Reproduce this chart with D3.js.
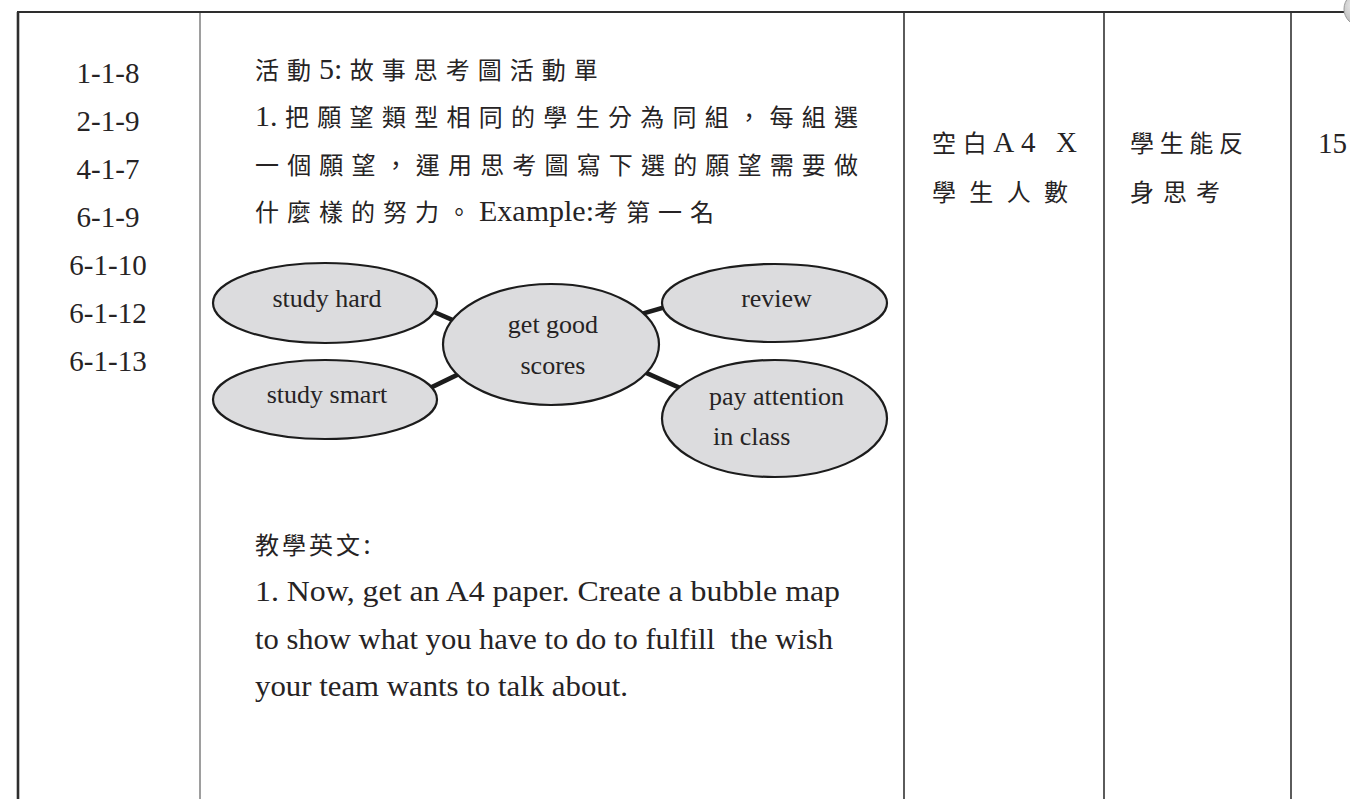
<!DOCTYPE html>
<html>
<head>
<meta charset="utf-8">
<script src="https://cdn.jsdelivr.net/npm/d3@7"></script>
<style>
  html, body { margin: 0; padding: 0; background: #fff; }
  svg { display: block; }
</style>
</head>
<body>
<div id="chart"></div>
<script>
// ---------------- data ----------------
const codes = ["1-1-8", "2-1-9", "4-1-7", "6-1-9", "6-1-10", "6-1-12", "6-1-13"];
const activityLines = [
  "活動5: 故事思考圖活動單",
  "1. 把願望類型相同的學生分為同組，每組選",
  "一個願望，運用思考圖寫下選的願望需要做",
  "什麼樣的努力。Example:考第一名"
];
const teachingTitle = ["教學英文:"];
const englishLines = [
  "1. Now, get an A4 paper. Create a bubble map",
  "to show what you have to do to fulfill  the wish",
  "your team wants to talk about."
];
const materials = ["空白A4 X", "學生人數"];
const objectives = ["學生能反", "身思考"];
const minutes = ["15"];
const bubbleNodes = [
  { id: "hard",   lines: ["study hard"] },
  { id: "smart",  lines: ["study smart"] },
  { id: "center", lines: ["get good", "scores"] },
  { id: "review", lines: ["review"] },
  { id: "attn",   lines: ["pay attention", "in class"] }
];
const bubbleLinks = [
  { source: "hard",   target: "center" },
  { source: "smart",  target: "center" },
  { source: "center", target: "review" },
  { source: "center", target: "attn" }
];

// ---------------- layout / style ----------------
const W = 1350, H = 799;
const LATIN = "'Liberation Serif', 'Times New Roman', serif";
const CJK = "'Noto Sans CJK TC', 'Noto Sans CJK SC', sans-serif";
const INK = "#262324";

const nodeLayout = {
  hard:   { cx: 325,   cy: 303,   rx: 112,   ry: 40,   labels: [{ dy: 4 }] },
  smart:  { cx: 325,   cy: 399.5, rx: 112,   ry: 39.5, labels: [{ dy: 3.5 }] },
  center: { cx: 551,   cy: 344.5, rx: 108,   ry: 60.5, labels: [{ dy: -11.5 }, { dy: 29.5 }] },
  review: { cx: 774.5, cy: 303,   rx: 112.5, ry: 39,   labels: [{ dy: 4 }] },
  attn:   { cx: 774.5, cy: 418.5, rx: 112.5, ry: 58.5, labels: [{ dy: -13.5 }, { dy: 26.5, x: 713, anchor: "start" }] }
};
// anchor angles (degrees) on source / target ellipse for each link
const linkAngles = [[13, 204], [-18, 150], [-31, 173], [28, 212]];

const svg = d3.select("#chart").append("svg")
  .attr("width", W).attr("height", H)
  .attr("viewBox", `0 0 ${W} ${H}`);

// ---------------- table grid ----------------
const colX = d3.scaleOrdinal()
  .domain(["outer", "activity", "materials", "objectives", "minutes"])
  .range([18, 200, 904, 1104, 1291]);
const topY = 12;

const grid = svg.append("g").attr("class", "grid");
grid.selectAll("line.v")
  .data(colX.domain())
  .join("line")
  .attr("class", "v")
  .attr("x1", d => colX(d)).attr("x2", d => colX(d))
  .attr("y1", topY).attr("y2", H)
  .attr("stroke", d => d === "outer" ? "#2e2e2e" : (d === "activity" ? "#6a6a6a" : "#4a4a4a"))
  .attr("stroke-width", d => d === "outer" ? 2.6 : (d === "activity" ? 1.3 : 1.8));
grid.append("line")
  .attr("x1", 17).attr("x2", 1344)
  .attr("y1", topY).attr("y2", topY)
  .attr("stroke", "#2e2e2e").attr("stroke-width", 2.2);

// corner knob (page decoration)
const defs = svg.append("defs");
const rg = defs.append("radialGradient").attr("id", "knob").attr("cx", "35%").attr("cy", "40%").attr("r", "70%");
rg.append("stop").attr("offset", "0%").attr("stop-color", "#f2f2f2");
rg.append("stop").attr("offset", "100%").attr("stop-color", "#a9a9a9");
svg.append("circle").attr("cx", 1361).attr("cy", 9).attr("r", 17)
  .attr("fill", "url(#knob)").attr("stroke", "#9a9a9a").attr("stroke-width", 1);

// ---------------- helpers ----------------
const isCJK = ch => /[\u3000-\u303f\u3400-\u9fff\uff00-\uffef]/.test(ch);
function runs(str) {
  const out = [];
  for (const ch of str) {
    const c = isCJK(ch);
    if (out.length && out[out.length - 1].cjk === c) out[out.length - 1].text += ch;
    else out.push({ text: ch, cjk: c });
  }
  return out;
}
// mixed CJK/Latin line; if a width is given, only the CJK glyph spacing is stretched to reach it
function mixedText(g, str, x, y, opts) {
  const t = g.append("text")
    .attr("x", x).attr("y", y)
    .attr("fill", INK)
    .style("white-space", "pre");
  const rs = runs(str);
  const ts = t.selectAll("tspan")
    .data(rs)
    .join("tspan")
    .attr("font-family", d => d.cjk ? CJK : LATIN)
    .attr("font-size", d => d.cjk ? opts.cjkSize : opts.latinSize)
    .attr("letter-spacing", 0)
    .text(d => d.text);
  let ls = opts.cjkSpacing;
  if (opts.width) {
    const natural = t.node().getComputedTextLength();
    const nCjk = rs.filter(r => r.cjk).reduce((s, r) => s + Array.from(r.text).length, 0);
    const lastCjk = rs[rs.length - 1].cjk ? 1 : 0;
    ls = Math.max(0, (opts.width - natural) / Math.max(1, nCjk - lastCjk));
  }
  ts.attr("letter-spacing", d => d.cjk ? ls : 0);
  return t;
}

// ---------------- column 1 : codes ----------------
const codeY = d3.scaleLinear().domain([0, codes.length - 1]).range([83, 371]);
svg.append("g").selectAll("text")
  .data(codes)
  .join("text")
  .attr("x", 108)
  .attr("y", (d, i) => codeY(i))
  .attr("text-anchor", "middle")
  .attr("font-family", LATIN)
  .attr("font-size", 29)
  .attr("fill", INK)
  .text(d => d);

// ---------------- column 2 : activity text ----------------
const actG = svg.append("g");
const actY = d3.scaleLinear().domain([0, activityLines.length - 1]).range([79, 221]);
const actWidths = [null, 603, 603, null];   // justified lines
activityLines.forEach((line, i) => {
  mixedText(actG, line, 255, actY(i), { cjkSize: 24, latinSize: 30, cjkSpacing: 8, width: actWidths[i] });
});

// bubble map
const bub = svg.append("g");
const nodeById = new Map(bubbleNodes.map(n => [n.id, Object.assign({}, n, nodeLayout[n.id])]));
const rad = Math.PI / 180;
const ellPt = (n, a) => [n.cx + n.rx * Math.cos(a * rad), n.cy + n.ry * Math.sin(a * rad)];
const linkData = bubbleLinks.map((l, i) => {
  const a = ellPt(nodeById.get(l.source), linkAngles[i][0]);
  const b = ellPt(nodeById.get(l.target), linkAngles[i][1]);
  const dx = b[0] - a[0], dy = b[1] - a[1], len = Math.hypot(dx, dy), ext = 10;
  return [[a[0] - dx / len * ext, a[1] - dy / len * ext], [b[0] + dx / len * ext, b[1] + dy / len * ext]];
});
bub.selectAll("path.link")
  .data(linkData)
  .join("path")
  .attr("class", "link")
  .attr("d", d => d3.line()(d))
  .attr("stroke", "#1c1c1c")
  .attr("stroke-width", 4.5)
  .attr("fill", "none");
const nodeG = bub.selectAll("g.node")
  .data(Array.from(nodeById.values()))
  .join("g")
  .attr("class", "node");
nodeG.append("ellipse")
  .attr("cx", d => d.cx).attr("cy", d => d.cy)
  .attr("rx", d => d.rx).attr("ry", d => d.ry)
  .attr("fill", "#dcdcde")
  .attr("stroke", "#1c1c1c")
  .attr("stroke-width", 2.2);
nodeG.each(function (d) {
  d3.select(this).selectAll("text")
    .data(d.lines.map((s, j) => ({ s, l: d.labels[j] })))
    .join("text")
    .attr("x", e => e.l.x !== undefined ? e.l.x : d.cx + 2)
    .attr("y", e => d.cy + e.l.dy)
    .attr("text-anchor", e => e.l.anchor || "middle")
    .attr("font-family", LATIN)
    .attr("font-size", 26)
    .attr("fill", INK)
    .text(e => e.s);
});

// teaching English
const engG = svg.append("g");
mixedText(engG, teachingTitle[0], 255, 554, { cjkSize: 24, latinSize: 29, cjkSpacing: 3 });
const engY = d3.scaleLinear().domain([0, englishLines.length - 1]).range([601, 696]);
const engWidths = [585, 578, 373];
engG.selectAll("text.eng")
  .data(englishLines)
  .join("text")
  .attr("class", "eng")
  .attr("x", 255)
  .attr("y", (d, i) => engY(i))
  .attr("font-family", LATIN)
  .attr("font-size", 29)
  .attr("fill", INK)
  .attr("textLength", (d, i) => engWidths[i])
  .attr("lengthAdjust", "spacingAndGlyphs")
  .style("white-space", "pre")
  .text(d => d);

// ---------------- columns 3-5 ----------------
const rowY = d3.scaleLinear().domain([0, 1]).range([152, 201]);
const matG = svg.append("g");
const matWidths = [145, 136];
materials.forEach((s, i) => {
  matG.append("text")
    .attr("x", 932).attr("y", rowY(i))
    .attr("fill", INK)
    .attr("textLength", matWidths[i]).attr("lengthAdjust", "spacing")
    .style("white-space", "pre")
    .selectAll("tspan").data(runs(s)).join("tspan")
    .attr("font-family", d => d.cjk ? CJK : LATIN)
    .attr("font-size", d => d.cjk ? 24 : 29)
    .text(d => d.text);
});
const objG = svg.append("g");
const objWidths = [113, 90];
objectives.forEach((s, i) => mixedText(objG, s, 1130, rowY(i), { cjkSize: 24, latinSize: 29, cjkSpacing: 4, width: objWidths[i] }));
svg.append("g").selectAll("text")
  .data(minutes)
  .join("text")
  .attr("x", 1318).attr("y", (d, i) => rowY(i) + 1)
  .attr("font-family", LATIN)
  .attr("font-size", 29)
  .attr("fill", INK)
  .text(d => d);
</script>
</body>
</html>
